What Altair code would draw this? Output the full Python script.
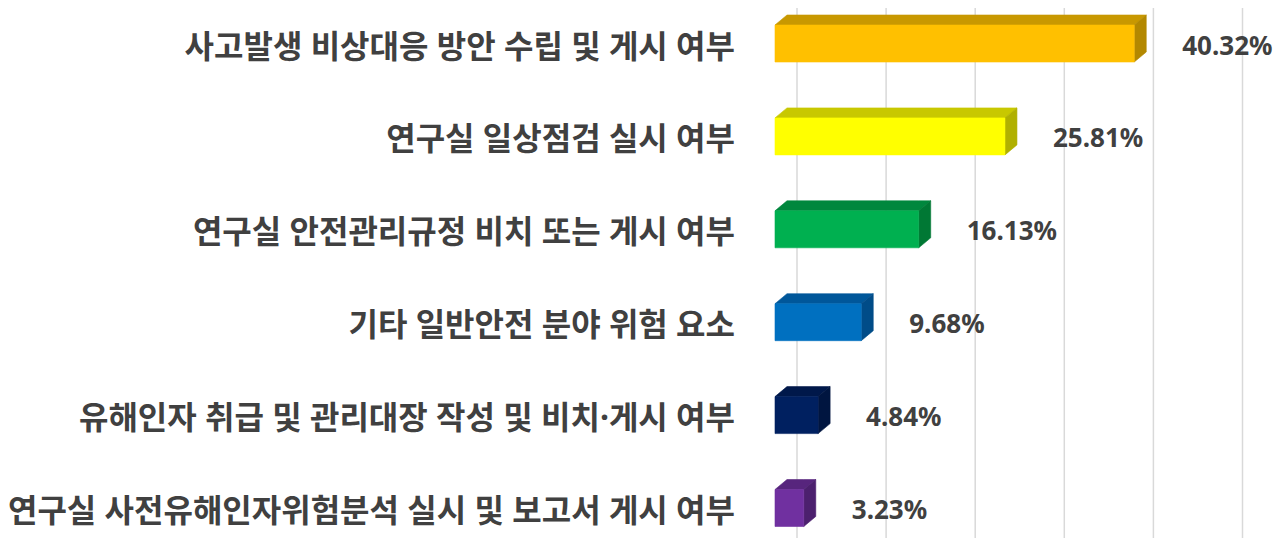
import altair as alt
import pandas as pd

# ---- data ----
categories = [
    "사고발생 비상대응 방안 수립 및 게시 여부",
    "연구실 일상점검 실시 여부",
    "연구실 안전관리규정 비치 또는 게시 여부",
    "기타 일반안전 분야 위험 요소",
    "유해인자 취급 및 관리대장 작성 및 비치·게시 여부",
    "연구실 사전유해인자위험분석 실시 및 보고서 게시 여부",
]
values = [40.32, 25.81, 16.13, 9.68, 4.84, 3.23]
grid_ticks = [0, 10, 20, 30, 40, 50]

front_colors = ["#FFC000", "#FFFF00", "#00B050", "#0070C0", "#002060", "#7030A0"]
top_colors = ["#C89800", "#C8C800", "#00873D", "#00579A", "#00184A", "#57257D"]
side_colors = ["#B38800", "#B0B000", "#007834", "#004C88", "#001540", "#4C206E"]

# ---- layout constants (pixels) ----
W, H = 503, 530
PX_PER_PCT = 8.91
STEP = 92.9          # px between bar centres
FIRST = 35.5         # px from top to first bar centre
BAR_H = 37.0         # front face height px
DEPTH_X, DEPTH_Y = 12.0, 10.0

dxd = DEPTH_X / PX_PER_PCT
dyd = DEPTH_Y / STEP
half = BAR_H / 2 / STEP
ydom = [-FIRST / STEP, (H - FIRST) / STEP]
xdom = [0, W / PX_PER_PCT]

front_rows, top_rows, side_rows, lab_rows = [], [], [], []
for i, (c, v) in enumerate(zip(categories, values)):
    yt, yb = i - half, i + half
    front_rows.append(dict(key=i, x=0, x2=v, y=yt, y2=yb, col=front_colors[i]))
    for xx, a, b in [(0, yt, yt), (dxd, yt, yt - dyd), (v, yt, yt - dyd), (v + dxd, yt - dyd, yt - dyd)]:
        top_rows.append(dict(key=i, x=xx, y=a, y2=b, col=top_colors[i]))
    for xx, a, b in [(v, yt, yb), (v + dxd, yt - dyd, yb - dyd)]:
        side_rows.append(dict(key=i, x=xx, y=a, y2=b, col=side_colors[i]))
    lab_rows.append(dict(cat=c, idx=i, value=v, zero=0, label=f"{v:.2f}%"))

front_df = pd.DataFrame(front_rows)
top_df = pd.DataFrame(top_rows)
side_df = pd.DataFrame(side_rows)
lab_df = pd.DataFrame(lab_rows)
grid_df = pd.DataFrame({"t": grid_ticks})

xs = alt.Scale(domain=xdom, nice=False, zero=False)
ys = alt.Scale(domain=ydom, nice=False, zero=False, reverse=True)

grid = alt.Chart(grid_df).mark_rule(color="#D9D9D9", strokeWidth=1.5, xOffset=22).encode(
    x=alt.X("t:Q", scale=xs, axis=None),
    y=alt.value(0),
    y2=alt.value(H),
)

top = alt.Chart(top_df).mark_area(strokeWidth=0.6).encode(
    x=alt.X("x:Q", scale=xs, axis=None),
    y=alt.Y("y:Q", scale=ys, axis=None, stack=False),
    y2="y2:Q",
    detail="key:N",
    color=alt.Color("col:N", scale=None),
    stroke=alt.Stroke("col:N", scale=None),
)

side = alt.Chart(side_df).mark_area(strokeWidth=0.6).encode(
    x=alt.X("x:Q", scale=xs, axis=None),
    y=alt.Y("y:Q", scale=ys, axis=None, stack=False),
    y2="y2:Q",
    detail="key:N",
    color=alt.Color("col:N", scale=None),
    stroke=alt.Stroke("col:N", scale=None),
)

front = alt.Chart(front_df).mark_rect(strokeWidth=0.6).encode(
    x=alt.X("x:Q", scale=xs, axis=None),
    x2="x2:Q",
    y=alt.Y("y:Q", scale=ys, axis=None),
    y2="y2:Q",
    color=alt.Color("col:N", scale=None),
    stroke=alt.Stroke("col:N", scale=None),
)

LABEL_FONT = "Noto Sans, Noto Sans CJK KR"

cat_text = alt.Chart(lab_df).mark_text(
    align="right", baseline="middle", dx=-40, dy=4,
    font=LABEL_FONT, fontWeight="bold", fontSize=32, color="#404040",
).encode(
    x=alt.X("zero:Q", scale=xs, axis=None),
    y=alt.Y("idx:Q", scale=ys, axis=None),
    text="cat:N",
)

val_text = alt.Chart(lab_df).mark_text(
    align="left", baseline="middle", dx=48, dy=3,
    font=LABEL_FONT, fontWeight="bold", fontSize=26, color="#404040",
).encode(
    x=alt.X("value:Q", scale=xs, axis=None),
    y=alt.Y("idx:Q", scale=ys, axis=None),
    text="label:N",
)

chart = alt.layer(grid, top, side, front, cat_text, val_text).properties(
    width=W, height=H,
    padding={"left": 767, "top": 0, "right": 0, "bottom": 0},
    autosize=alt.AutoSizeParams(type="none"),
    background="white",
).configure_view(stroke=None)

chart.save("out.html", embed_options={"renderer": "svg", "actions": False})
